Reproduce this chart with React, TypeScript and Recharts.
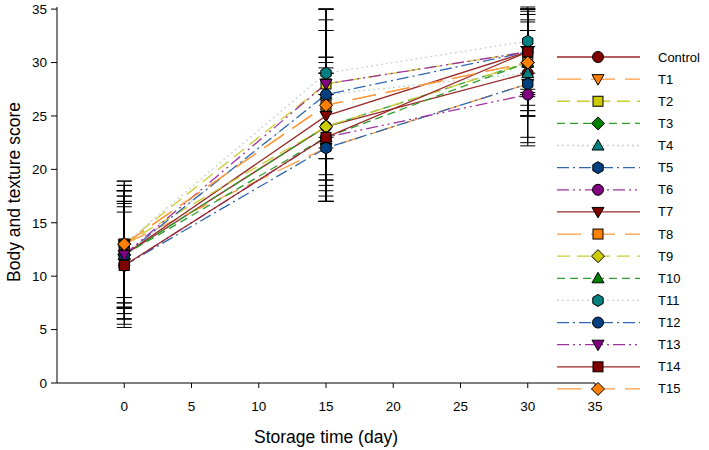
import React from 'react';
import { LineChart, Line, XAxis, YAxis, ErrorBar, Legend } from 'recharts';

const DAYS = [0, 15, 30];
const SERIES = ['Control', 'T1', 'T2', 'T3', 'T4', 'T5', 'T6', 'T7', 'T8', 'T9', 'T10', 'T11', 'T12', 'T13', 'T14', 'T15'];
const VALUES: number[][] = [
  [12, 24, 29],
  [13, 22, 28],
  [13, 28, 31],
  [12, 24, 30],
  [12, 27, 29],
  [11, 22, 28],
  [11, 23, 27],
  [12, 25, 31],
  [13, 26, 30],
  [13, 24, 30],
  [12, 23, 30],
  [13, 29, 32],
  [12, 27, 31],
  [12, 28, 31],
  [11, 23, 31],
  [13, 26, 30],
];
const ERRORS: number[][] = [
  [5, 6, 4],
  [5.5, 5, 5],
  [5.9, 6, 3.5],
  [5.5, 5.5, 4.5],
  [5, 6, 4],
  [5.8, 5, 5.8],
  [5.5, 6, 4.5],
  [6, 5.5, 4],
  [5, 7, 5],
  [5.5, 6.5, 4],
  [5, 6, 4.5],
  [5, 6, 3],
  [6, 8, 4],
  [5.5, 7, 3.8],
  [5, 6, 4.2],
  [5.9, 9, 5],
];
const X_TICKS = [0, 5, 10, 15, 20, 25, 30, 35];
const Y_TICKS = [0, 5, 10, 15, 20, 25, 30, 35];

const LINE_COLORS = ['#9A2A2A', '#FF9A3C', '#CCCC33', '#2E9E2E', '#C4D4D4', '#2F68B0', '#A032A0'];
const FILL_COLORS = ['#800000', '#FF8000', '#CCCC00', '#008000', '#008080', '#00407F', '#800080'];
const DASHES: (string | undefined)[] = [undefined, '24 10', '13 7', '8 5', '2 3', '12 4 2 4', '12 4 2 4 2 4'];
const SHAPES = ['circle', 'tridown', 'square', 'diamond', 'triup', 'hexagon'];

const FONT = '"Liberation Sans", Arial, sans-serif';

const data = DAYS.map((d, i) => {
  const row: Record<string, number> = { day: d };
  SERIES.forEach((s, k) => {
    row[s] = VALUES[k][i];
    row[s + '_e'] = ERRORS[k][i];
  });
  return row;
});

function Marker({ cx, cy, shape, fill }: { cx: number; cy: number; shape: string; fill: string }) {
  const r = 5.5;
  const common = { fill, stroke: '#000', strokeWidth: 1 };
  switch (shape) {
    case 'circle':
      return <circle cx={cx} cy={cy} r={r} {...common} />;
    case 'square':
      return <rect x={cx - 5} y={cy - 5} width={10} height={10} {...common} />;
    case 'diamond':
      return <polygon points={`${cx},${cy - 6.5} ${cx + 6.5},${cy} ${cx},${cy + 6.5} ${cx - 6.5},${cy}`} {...common} />;
    case 'tridown':
      return <polygon points={`${cx - 6},${cy - 4.5} ${cx + 6},${cy - 4.5} ${cx},${cy + 6}`} {...common} />;
    case 'triup':
      return <polygon points={`${cx - 6},${cy + 4.5} ${cx + 6},${cy + 4.5} ${cx},${cy - 6}`} {...common} />;
    default: {
      const pts = [0, 1, 2, 3, 4, 5]
        .map((j) => {
          const a = (Math.PI / 3) * j + Math.PI / 6;
          return `${cx + 6 * Math.cos(a)},${cy + 6 * Math.sin(a)}`;
        })
        .join(' ');
      return <polygon points={pts} {...common} />;
    }
  }
}

const styleOf = (k: number) => ({
  line: LINE_COLORS[k % 7],
  fill: FILL_COLORS[k % 7],
  dash: DASHES[k % 7],
  shape: SHAPES[k % 6],
});

function LegendContent() {
  const rowH = 22.13;
  return (
    <svg width={160} height={360} style={{ display: 'block' }}>
      {SERIES.map((s, k) => {
        const st = styleOf(k);
        const y = 11 + k * rowH;
        return (
          <g key={s}>
            <line x1={5} x2={88} y1={y} y2={y} stroke={st.line} strokeWidth={1.3} strokeDasharray={st.dash} />
            <Marker cx={46} cy={y} shape={st.shape} fill={st.fill} />
            <text x={106} y={y} dominantBaseline="central" fontFamily={FONT} fontSize={13} fill="#000">
              {s}
            </text>
          </g>
        );
      })}
    </svg>
  );
}

export default function App() {
  return (
    <div style={{ position: 'absolute', left: 0, top: 0, width: 709, height: 450, background: '#fff' }}>
      <LineChart width={709} height={450} data={data} margin={{ top: 7, right: 114, bottom: 0, left: 0 }}>
        <XAxis
          type="number"
          dataKey="day"
          domain={[-5, 35]}
          ticks={X_TICKS}
          allowDataOverflow
          height={67}
          tickSize={5}
          tickMargin={13}
          stroke="#000"
          tick={{ fill: '#000', fontSize: 13.5, fontFamily: FONT }}
          label={{
            content: ({ viewBox }: any) => (
              <text
                x={viewBox.x + viewBox.width / 2}
                y={437}
                textAnchor="middle"
                dominantBaseline="central"
                fontFamily={FONT}
                fontSize={17.5}
                fill="#000"
              >
                Storage time (day)
              </text>
            ),
          }}
        />
        <YAxis
          type="number"
          domain={[0, 35]}
          ticks={Y_TICKS}
          width={57}
          tickSize={6}
          tickMargin={4}
          stroke="#000"
          tick={{ fill: '#000', fontSize: 13.5, fontFamily: FONT }}
          label={{
            content: ({ viewBox }: any) => {
              const cy = viewBox.y + viewBox.height / 2 - 3;
              return (
                <text
                  x={14}
                  y={cy}
                  transform={`rotate(-90 14 ${cy})`}
                  textAnchor="middle"
                  dominantBaseline="central"
                  fontFamily={FONT}
                  fontSize={17.5}
                  fill="#000"
                >
                  Body and texture score
                </text>
              );
            },
          }}
        />
        <Legend
          layout="horizontal"
          verticalAlign="middle"
          align="center"
          content={() => <LegendContent />}
          wrapperStyle={{ position: 'absolute', left: 552, top: 46, width: 160, height: 360 }}
        />
        {SERIES.map((s, k) => {
          const st = styleOf(k);
          return (
            <Line
              key={s}
              dataKey={s}
              stroke={st.line}
              strokeWidth={1.3}
              strokeDasharray={st.dash}
              isAnimationActive={false}
              legendType="none"
              dot={(p: any) => <Marker key={`${s}-${p.index}`} cx={p.cx} cy={p.cy} shape={st.shape} fill={st.fill} />}
              activeDot={false}
            >
              <ErrorBar dataKey={s + '_e'} width={7.5} stroke="#000" strokeWidth={1} isAnimationActive={false} />
            </Line>
          );
        })}
      </LineChart>
    </div>
  );
}
